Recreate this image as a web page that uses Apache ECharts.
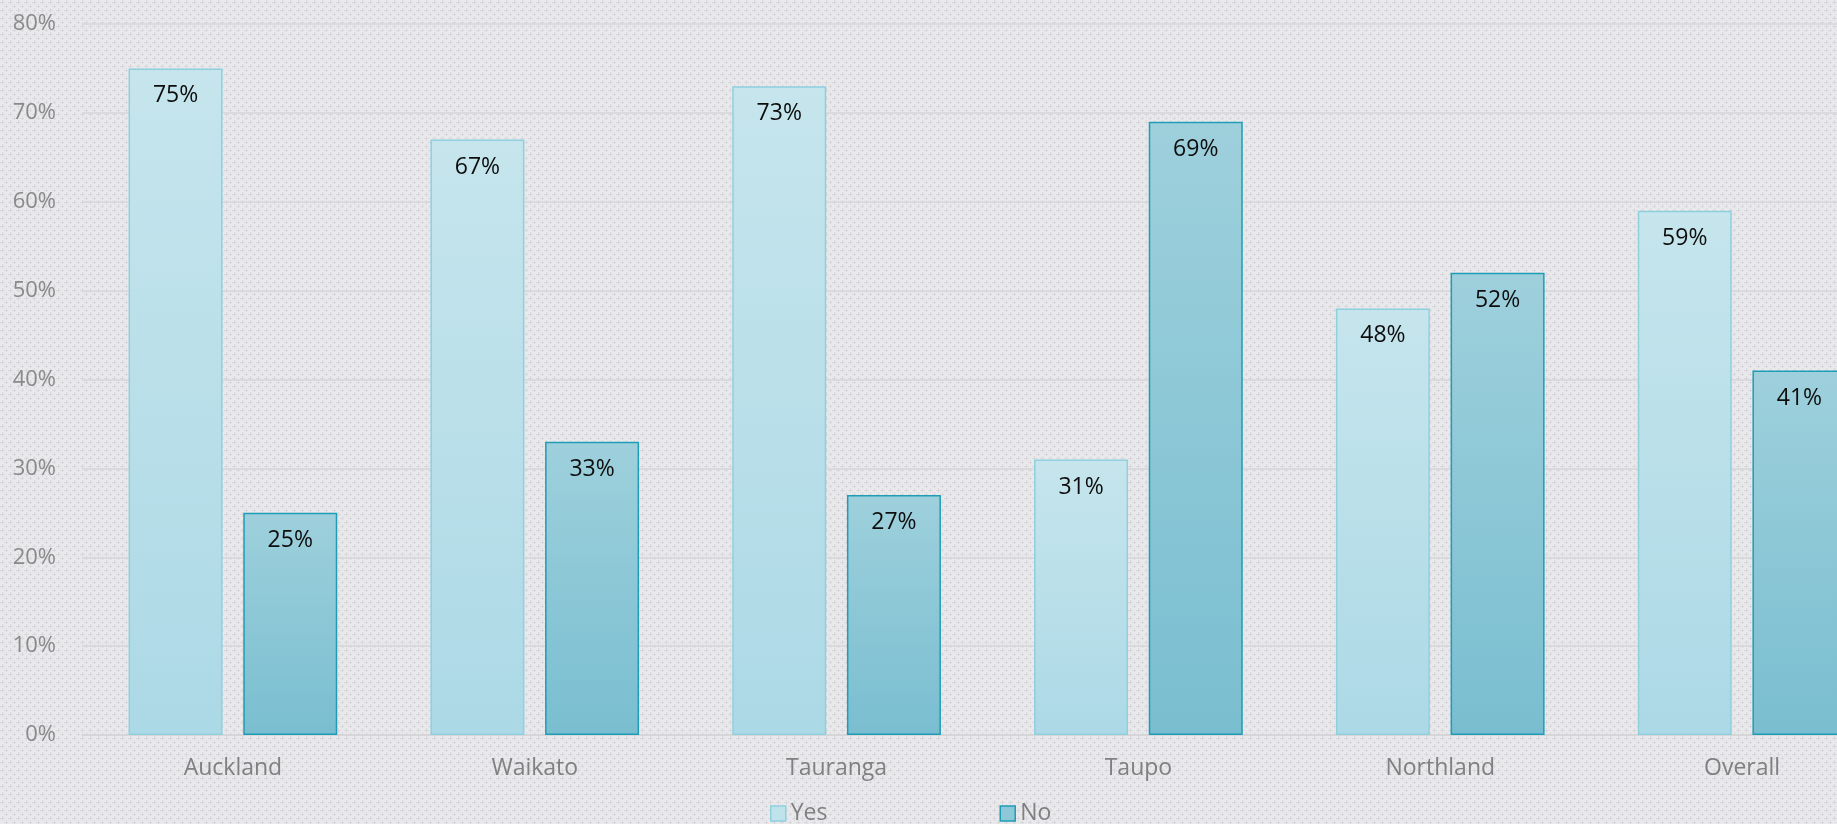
<!DOCTYPE html>
<html>
<head>
<meta charset="utf-8">
<script src="https://cdn.jsdelivr.net/npm/echarts@6/dist/echarts.min.js"></script>
<style>
  html, body { margin: 0; padding: 0; width: 1837px; height: 824px; overflow: hidden; background: #e6e6e9; }
  #chart { width: 1837px; height: 824px; }
</style>
</head>
<body>
<div id="chart"></div>
<script>
(function () {
  'use strict';

  const regions = ['Auckland', 'Waikato', 'Tauranga', 'Taupo', 'Northland', 'Overall'];
  const yesValues = [75, 67, 73, 31, 48, 59];
  const noValues = [25, 33, 27, 69, 52, 41];
  const seriesNames = ['Yes', 'No'];

  // textured grey background like the office chart style
  function makePattern() {
    const c = document.createElement('canvas');
    c.width = 8;
    c.height = 8;
    const ctx = c.getContext('2d');
    ctx.fillStyle = '#e9e9eb';
    ctx.fillRect(0, 0, 8, 8);
    ctx.fillStyle = '#d8d8dd';
    [[2, 2], [6, 6]].forEach(function (p) {
      ctx.fillRect(p[0] - 2, p[1], 5, 1);
      ctx.fillRect(p[0], p[1] - 2, 1, 5);
    });
    return c.toDataURL();
  }
  document.body.style.backgroundImage = 'url(' + makePattern() + ')';

  const FONT = '"Open Sans", "DejaVu Sans", sans-serif';

  function grad(top, bottom) {
    return new echarts.graphic.LinearGradient(0, 0, 0, 1, [
      { offset: 0, color: top },
      { offset: 1, color: bottom }
    ]);
  }

  const yesStyle = { color: grad('#c6e5ed', '#acd9e6'), borderColor: '#8fd0df', borderWidth: 1.5 };
  const noStyle = { color: grad('#9ed0dc', '#79bed0'), borderColor: '#1f9cb6', borderWidth: 1.5 };

  const label = {
    show: true,
    position: 'insideTop',
    distance: 16,
    formatter: '{c}%',
    color: '#0d0d0d',
    fontFamily: FONT,
    fontSize: 23
  };

  const chart = echarts.init(document.getElementById('chart'), null, { renderer: 'canvas' });
  chart.setOption({
    backgroundColor: 'transparent',
    animation: false,
    grid: { left: 82, top: 24, width: 1811, height: 711, outerBoundsMode: 'none', containLabel: false },
    legend: {
      left: 765,
      top: 797,
      itemWidth: 15,
      itemHeight: 15,
      itemGap: 172,
      textStyle: { color: '#808080', fontFamily: FONT, fontSize: 23 },
      data: [
        { name: seriesNames[0], icon: 'rect', itemStyle: { color: '#c0e2eb', borderColor: '#8fd0df', borderWidth: 1.5 } },
        { name: seriesNames[1], icon: 'rect', itemStyle: { color: '#8cc8d7', borderColor: '#1f9cb6', borderWidth: 1.5 } }
      ]
    },
    xAxis: {
      type: 'category',
      data: regions,
      axisLine: { show: true, lineStyle: { color: '#d4d4d8', width: 1.5 } },
      axisTick: { show: false },
      axisLabel: { color: '#808080', fontFamily: FONT, fontSize: 23, margin: 22 }
    },
    yAxis: {
      type: 'value',
      min: 0,
      max: 80,
      interval: 10,
      axisLine: { show: false },
      axisTick: { show: false },
      axisLabel: { formatter: '{value}%', color: '#8a8a8a', fontFamily: FONT, fontSize: 22, margin: 26 },
      splitLine: { lineStyle: { color: '#d6d6da', width: 1.5 } }
    },
    series: [
      { name: seriesNames[0], type: 'bar', data: yesValues, barWidth: 94, barGap: '22%', itemStyle: yesStyle, label: label },
      { name: seriesNames[1], type: 'bar', data: noValues, barWidth: 94, barGap: '22%', itemStyle: noStyle, label: label }
    ]
  });
})();
</script>
</body>
</html>
